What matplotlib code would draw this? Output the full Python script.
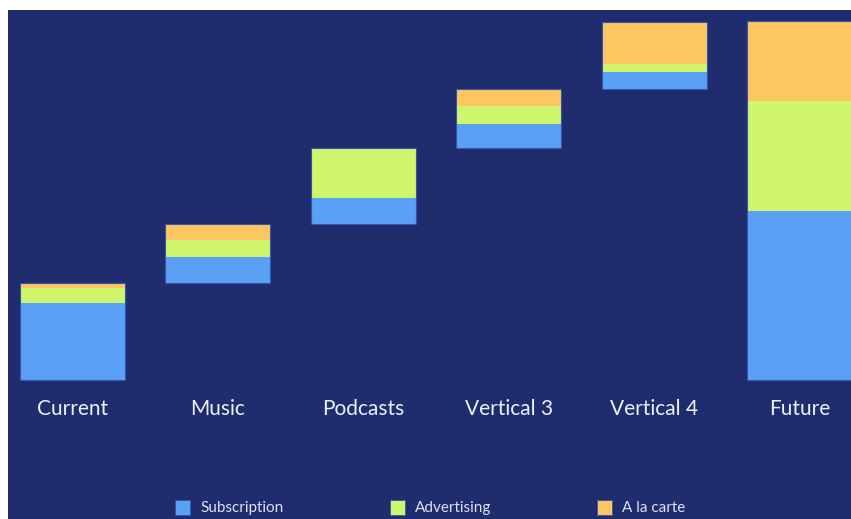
import matplotlib.pyplot as plt
from matplotlib.patches import Rectangle
import numpy as np

# waterfall of revenue by stream (arbitrary units)
categories = ["Current", "Music", "Podcasts", "Vertical 3", "Vertical 4", "Future"]
subscription = [77, 26, 26, 24, 17, 169]
advertising = [15, 17, 50, 18, 8, 110]
a_la_carte = [5, 16, 0, 17, 42, 80]
is_total = [False, False, False, False, False, True]
series_names = ["Subscription", "Advertising", "A la carte"]

navy = "#1f2d6e"
colors = ["#5aa0f5", "#cff56a", "#fec660"]

W, H = 851, 519
fig = plt.figure(figsize=(W / 100, H / 100), dpi=100, facecolor="white")
ax = fig.add_axes([8 / W, 0, (W - 8) / W, (H - 10) / H])
ax.set_facecolor(navy)

sub = np.array(subscription)
adv = np.array(advertising)
alc = np.array(a_la_carte)
step = sub + adv + alc

# base of each floating bar: running total, totals start at zero
base = []
running = 0
for i, t in enumerate(is_total):
    if t:
        base.append(0)
    else:
        base.append(running)
        running += step[i]
base = np.array(base)

x = np.arange(len(categories))
w = 0.722
ax.bar(x, sub, w, bottom=base, color=colors[0])
ax.bar(x, adv, w, bottom=base + sub, color=colors[1])
ax.bar(x, alc, w, bottom=base + sub + adv, color=colors[2])
# thin outline round each stack
ax.bar(x, step, w, bottom=base, fill=False, edgecolor="#3556b0", linewidth=0.8)

for i, name in enumerate(categories):
    ax.text(x[i], -29, name, ha="center", va="center", color="#eef0f6",
            fontsize=15, family="Lato")

ax.set_xlim(-0.4436, 5.354)
ax.set_ylim(-139, 370)
ax.set_xticks([])
ax.set_yticks([])
for s in ax.spines.values():
    s.set_visible(False)

# legend along the bottom, drawn by hand to match spacing
leg_x = [175, 390, 597]
for lx, name, c in zip(leg_x, series_names, colors):
    fig.add_artist(Rectangle((lx / W, (H - 515) / H), 15 / W, 15 / H,
                             transform=fig.transFigure, facecolor=c,
                             edgecolor="#3556b0", linewidth=0.6))
    fig.text((lx + 25) / W, (H - 508) / H, name, ha="left", va="center",
             color="#dfe2ee", fontsize=11, family="Lato")

fig.savefig("out.png", dpi=100, facecolor="white")
